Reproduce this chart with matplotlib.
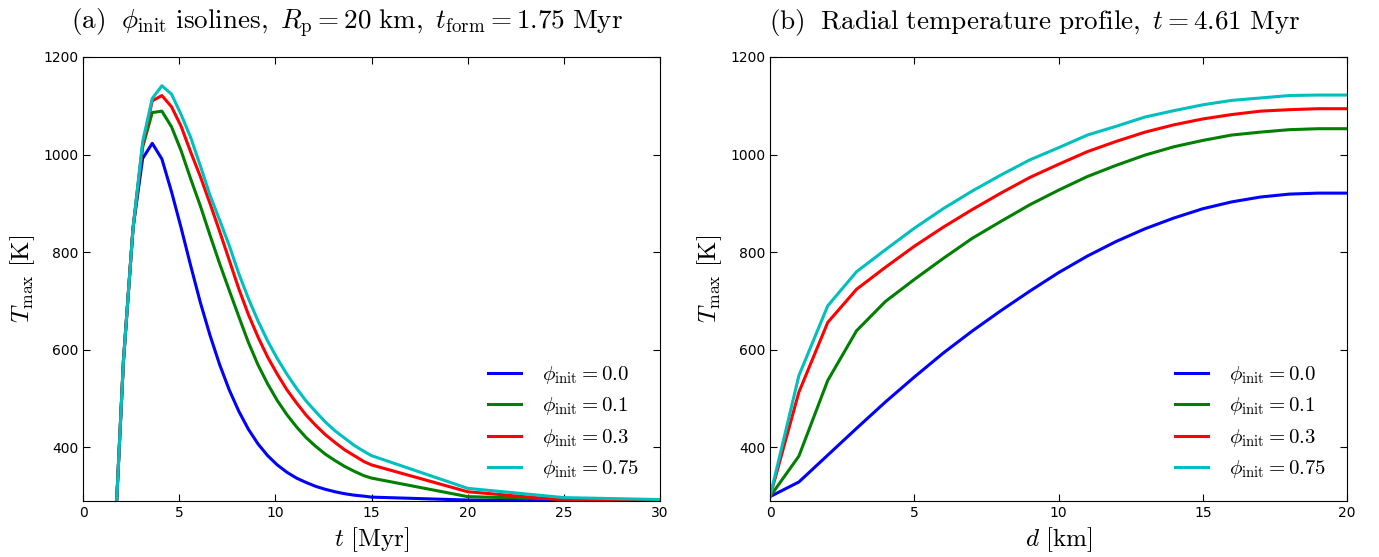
import matplotlib
matplotlib.use('Agg')
import matplotlib.pyplot as plt

plt.rcParams['mathtext.fontset'] = 'cm'
plt.rcParams['font.family'] = 'DejaVu Sans'
plt.rcParams['xtick.direction'] = 'in'
plt.rcParams['ytick.direction'] = 'in'
plt.rcParams['xtick.top'] = True
plt.rcParams['ytick.right'] = True
plt.rcParams['xtick.major.size'] = 5
plt.rcParams['ytick.major.size'] = 5

# (a) peak temperature vs time
t_myr = [1.75, 2.1, 2.6, 3.1, 3.6, 4.1, 4.6, 5.1, 5.6, 6.1, 6.6, 7.1, 7.6, 8.1, 8.6,
         9.1, 9.6, 10.1, 10.6, 11.1, 11.6, 12.1, 12.6, 13.1, 13.6, 14.1, 14.6, 15,
         20, 25, 30]
T_phi00 = [290, 576, 849, 992, 1023, 991, 924, 850, 772, 697, 630, 570, 518, 474, 437,
           407, 383, 364, 349, 337, 328, 320, 314, 309, 305, 302, 300, 298,
           292, 291, 290.5]
T_phi01 = [290, 576, 849, 1015, 1086, 1089, 1057, 1008, 950, 895, 835, 777, 722, 668, 615,
           569, 530, 496, 467, 442, 420, 402, 386, 373, 361, 351, 342, 337,
           299, 294, 292]
T_phi03 = [290, 576, 849, 1020, 1110, 1121, 1098, 1058, 1005, 955, 900, 843, 784, 725, 672,
           626, 585, 550, 518, 491, 466, 445, 426, 410, 395, 383, 371, 364,
           309, 292, 292]
T_phi075 = [290, 576, 849, 1026, 1115, 1141, 1124, 1082, 1035, 977, 917, 866, 814, 756, 705,
            659, 618, 582, 550, 521, 495, 473, 452, 434, 419, 404, 392, 383,
            316, 297, 293]

# (b) radial profile at t = 4.61 Myr
d_km = list(range(21))
R_phi00 = [299, 329, 384, 439, 493, 544, 593, 638, 680, 720, 758, 792, 822, 848, 870,
           889, 903, 913, 919, 921, 921]
R_phi01 = [299, 382, 537, 639, 699, 744, 787, 828, 863, 897, 927, 955, 978, 999, 1016,
           1029, 1040, 1046, 1051, 1053, 1053]
R_phi03 = [299, 513, 656, 724, 769, 812, 851, 887, 921, 953, 980, 1006, 1027, 1046, 1061,
           1073, 1082, 1089, 1092, 1094, 1094]
R_phi075 = [299, 547, 690, 760, 805, 849, 889, 925, 958, 989, 1014, 1040, 1058, 1077, 1090,
            1102, 1111, 1116, 1121, 1122, 1122]

phi_labels = ['0.0', '0.1', '0.3', '0.75']
colors = ['b', 'g', 'r', 'c']

fig = plt.figure(figsize=(13.79, 5.57), dpi=100)
ax1 = fig.add_axes([0.0602, 0.1005, 0.4184, 0.7972])
ax2 = fig.add_axes([0.5584, 0.1005, 0.4184, 0.7972])

for T, lab, c in zip([T_phi00, T_phi01, T_phi03, T_phi075], phi_labels, colors):
    ax1.plot(t_myr, T, color=c, lw=2.2, label=r'$\phi_{\rm init}=%s$' % lab)
for T, lab, c in zip([R_phi00, R_phi01, R_phi03, R_phi075], phi_labels, colors):
    ax2.plot(d_km, T, color=c, lw=2.2, label=r'$\phi_{\rm init}=%s$' % lab)

ax1.set_xlim(0, 30)
ax2.set_xlim(0, 20)
ax2.set_xticks(range(0, 21, 5))
for ax in (ax1, ax2):
    ax.set_ylim(290, 1200)
    ax.set_yticks([400, 600, 800, 1000, 1200])
    ax.tick_params(labelsize=10)
    ax.set_ylabel(r'$T_{\rm max}\ \mathrm{[K]}$', fontsize=18)
    ax.legend(loc='lower right', frameon=False, fontsize=15, handlelength=1.6,
              handletextpad=1.0, labelspacing=0.45, borderaxespad=0.6)

ax1.set_xlabel(r'$t\ \mathrm{[Myr]}$', fontsize=18)
ax2.set_xlabel(r'$d\ \mathrm{[km]}$', fontsize=18)

ax1.set_title(r'$\mathrm{(a)\ \ }\phi_{\rm init}\mathrm{\ isolines,\ }R_{\rm p}=20\mathrm{\ km,\ }'
              r't_{\rm form}=1.75\mathrm{\ Myr}$', fontsize=19.5, pad=20, x=0.458)
ax2.set_title(r'$\mathrm{(b)\ \ Radial\ temperature\ profile,\ }t=4.61\mathrm{\ Myr}$',
              fontsize=19.5, pad=20, x=0.458)

fig.savefig('out.png', dpi=100)
